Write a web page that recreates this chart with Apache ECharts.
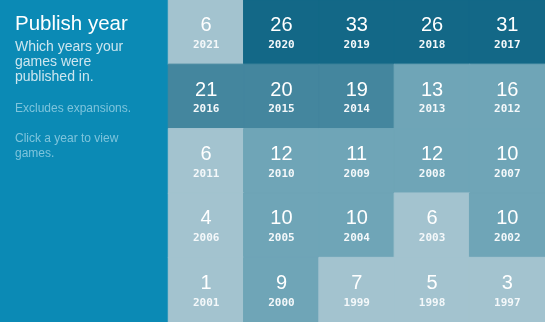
<!DOCTYPE html>
<html>
<head>
<meta charset="utf-8">
<script src="https://cdn.jsdelivr.net/npm/echarts@6/dist/echarts.min.js"></script>
<style>
  html, body { margin: 0; padding: 0; }
  #chart { width: 545px; height: 322px; }
</style>
</head>
<body>
<div id="chart"></div>
<script>
// Publish years laid out in a 5x5 grid, newest first
const years = [
  2021, 2020, 2019, 2018, 2017,
  2016, 2015, 2014, 2013, 2012,
  2011, 2010, 2009, 2008, 2007,
  2006, 2005, 2004, 2003, 2002,
  2001, 2000, 1999, 1998, 1997
];
const counts = [
  6, 26, 33, 26, 31,
  21, 20, 19, 13, 16,
  6, 12, 11, 12, 10,
  4, 10, 10, 6, 10,
  1, 9, 7, 5, 3
];
const cols = ['c0', 'c1', 'c2', 'c3', 'c4'];
const rows = ['r0', 'r1', 'r2', 'r3', 'r4'];

// Shade each cell by how many games fall in that year
function shade(v) {
  if (v >= 24) return '#136887';
  if (v >= 17) return '#44869e';
  if (v >= 8) return '#6fa5b7';
  return '#a3c3cf';
}

const data = counts.map((v, i) => {
  const c = shade(v);
  return {
    value: [i % 5, Math.floor(i / 5), v],
    year: years[i],
    itemStyle: { color: c, borderColor: c, borderWidth: 1 }
  };
});

const chart = echarts.init(document.getElementById('chart'));
chart.setOption({
  backgroundColor: '#0b8ab5',
  animation: false,
  grid: { left: 168.5, right: -0.5, top: -0.5, bottom: -0.5 },
  xAxis: { type: 'category', data: cols, show: false },
  yAxis: { type: 'category', data: rows, inverse: true, show: false },
  graphic: [
    { type: 'text', left: 15, top: 14, style: { text: 'Publish year', fill: '#ffffff', font: '20.5px "Liberation Sans", Arial, sans-serif' } },
    { type: 'text', left: 15, top: 40, style: { text: 'Which years your\ngames were\npublished in.', fill: '#cde6ef', font: '14px "Liberation Sans", Arial, sans-serif', lineHeight: 15 } },
    { type: 'text', left: 15, top: 103, style: { text: 'Excludes expansions.', fill: '#7ec4dc', font: '12px "Liberation Sans", Arial, sans-serif' } },
    { type: 'text', left: 15, top: 131, style: { text: 'Click a year to view\ngames.', fill: '#7ec4dc', font: '12px "Liberation Sans", Arial, sans-serif', lineHeight: 15 } }
  ],
  series: [{
    type: 'heatmap',
    data: data,
    label: {
      show: true,
      offset: [0, 1],
      formatter: p => '{n|' + p.value[2] + '}\n{y|' + p.data.year + '}',
      rich: {
        n: { fontSize: 20, fontFamily: '"Liberation Sans", Arial, sans-serif', color: '#ffffff', lineHeight: 24 },
        y: { fontSize: 11, fontFamily: '"DejaVu Sans Mono", monospace', fontWeight: 'bold', color: '#f4f8fa', lineHeight: 15 }
      }
    }
  }]
});
</script>
</body>
</html>
